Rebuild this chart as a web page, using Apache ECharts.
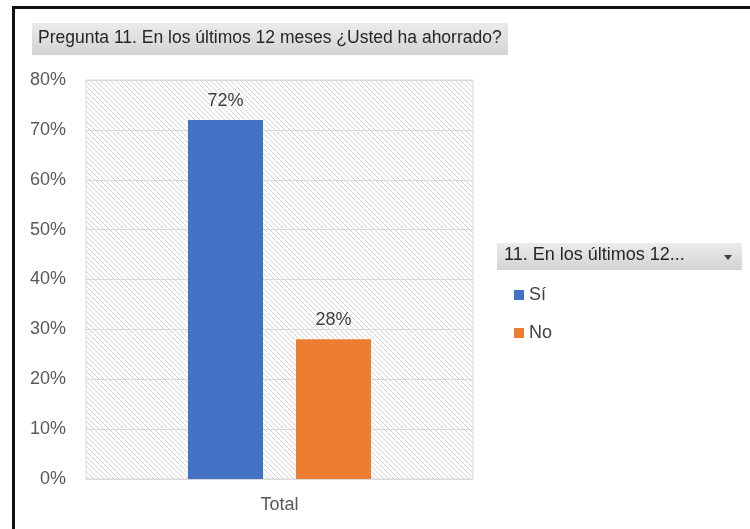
<!DOCTYPE html>
<html>
<head>
<meta charset="utf-8">
<style>html,body{margin:0;padding:0;background:#fff;}#c{width:750px;height:529px;}</style>
<script src="https://cdn.jsdelivr.net/npm/echarts@6/dist/echarts.min.js"></script>
</head>
<body>
<div id="c"></div>
<script>
const categories = ['Total'];
const seriesNames = ['Sí', 'No'];
const siValues = [72];
const noValues = [28];
const yTicks = [0, 10, 20, 30, 40, 50, 60, 70, 80];
const titleText = 'Pregunta 11. En los últimos 12 meses ¿Usted ha ahorrado?';
const legendHeader = '11. En los últimos 12...';

function hatch() {
  const s = 5;
  const cv = document.createElement('canvas');
  cv.width = s; cv.height = s;
  const ctx = cv.getContext('2d');
  ctx.fillStyle = '#ffffff';
  ctx.fillRect(0, 0, s, s);
  ctx.strokeStyle = '#d4d4d4';
  ctx.lineWidth = 1;
  for (let k = -1; k <= 1; k++) {
    ctx.beginPath();
    ctx.moveTo(k * s, 0);
    ctx.lineTo(k * s + s, s);
    ctx.stroke();
  }
  return { image: cv, repeat: 'repeat' };
}

const chart = echarts.init(document.getElementById('c'));
const font = '"Liberation Sans", Arial, sans-serif';
const grayGrad = new echarts.graphic.LinearGradient(0, 0, 0, 1, [
  { offset: 0, color: '#ebebeb' }, { offset: 1, color: '#d3d3d3' }
]);
chart.setOption({
  animation: false,
  textStyle: { fontFamily: font },
  graphic: [
    { type: 'rect', shape: { x: 12, y: 6, width: 740, height: 3 }, style: { fill: '#111' } },
    { type: 'rect', shape: { x: 12, y: 6, width: 3, height: 530 }, style: { fill: '#111' } },
    { type: 'rect', shape: { x: 32, y: 23, width: 476, height: 32 }, style: { fill: grayGrad } },
    { type: 'text', left: 38, top: 29, style: { text: titleText, font: '17.5px ' + font, fill: '#262626' } },
    { type: 'rect', shape: { x: 497, y: 243, width: 245, height: 27 }, style: { fill: grayGrad } },
    { type: 'text', left: 504, top: 246, style: { text: legendHeader, font: '18px ' + font, fill: '#262626' } },
    { type: 'polygon', shape: { points: [[724, 255], [732, 255], [728, 260]] }, style: { fill: '#404040' } }
  ],
  legend: {
    orient: 'vertical',
    left: 509,
    top: 281,
    icon: 'rect',
    itemWidth: 10,
    itemHeight: 10,
    itemGap: 20,
    textStyle: { fontSize: 18, color: '#404040', fontFamily: font },
    data: seriesNames
  },
  grid: {
    left: 86, right: 277, top: 80, bottom: 50,
    show: true,
    backgroundColor: hatch(),
    borderColor: '#d9d9d9',
    borderWidth: 1
  },
  xAxis: {
    type: 'category',
    data: categories,
    axisLine: { lineStyle: { color: '#d9d9d9', width: 1 } },
    axisTick: { show: false },
    axisLabel: { fontSize: 18, color: '#595959', margin: 17, fontFamily: font }
  },
  yAxis: {
    type: 'value',
    min: yTicks[0],
    max: yTicks[yTicks.length - 1],
    interval: 10,
    axisLine: { show: false },
    axisTick: { show: false },
    axisLabel: { fontSize: 18, color: '#595959', margin: 20, formatter: '{value}%', fontFamily: font },
    splitLine: { lineStyle: { color: '#d9d9d9', width: 1 } }
  },
  series: [
    {
      name: seriesNames[0], type: 'bar', data: siValues, barWidth: 75, barGap: '44%',
      itemStyle: { color: '#4472C4' },
      label: { show: true, position: 'top', distance: 10, formatter: '{c}%', fontSize: 18, color: '#404040', fontFamily: font }
    },
    {
      name: seriesNames[1], type: 'bar', data: noValues, barWidth: 75, barGap: '44%',
      itemStyle: { color: '#ED7D31' },
      label: { show: true, position: 'top', distance: 10, formatter: '{c}%', fontSize: 18, color: '#404040', fontFamily: font }
    }
  ]
});
</script>
</body>
</html>
